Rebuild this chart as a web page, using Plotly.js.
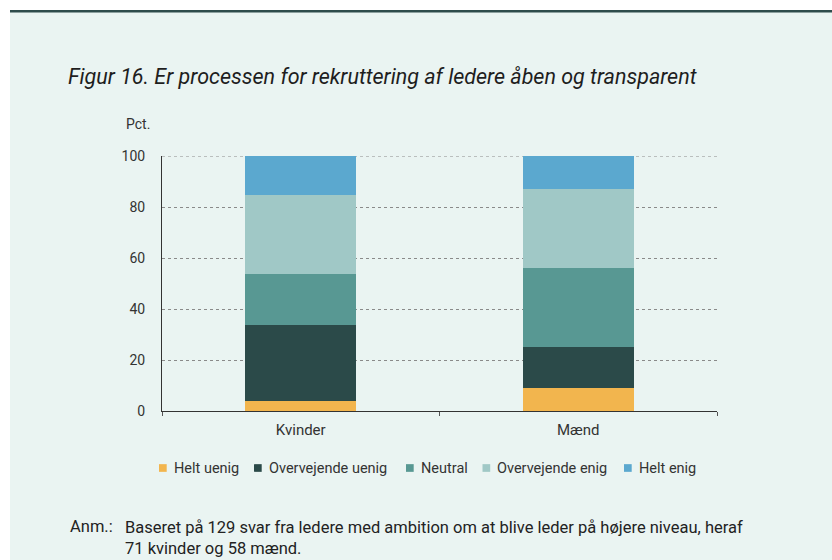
<!DOCTYPE html>
<html>
<head>
<meta charset="utf-8">
<script src="https://cdn.plot.ly/plotly-3.0.1.min.js"></script>
<style>html,body{margin:0;padding:0;background:#fff;}#chart{width:832px;height:560px;}</style>
</head>
<body>
<div id="chart"></div>
<script>
// Data
const categories = ["Kvinder", "Mænd"];
const seriesNames = ["Helt uenig", "Overvejende uenig", "Neutral", "Overvejende enig", "Helt enig"];
const heltUenig = [4.0, 8.9];
const overvejendeUenig = [29.9, 16.1];
const neutral = [19.9, 31.2];
const overvejendeEnig = [31.1, 30.8];
const heltEnig = [15.1, 13.0];
const yTicks = [0, 20, 40, 60, 80, 100];

const seriesValues = [heltUenig, overvejendeUenig, neutral, overvejendeEnig, heltEnig];
const colors = ["#F2B54E", "#2B4A49", "#589893", "#A0C8C6", "#5BA8CF"];

const FONT = "Roboto, 'Open Sans', sans-serif";

const traces = seriesNames.map((name, i) => ({
  type: "bar",
  name: name,
  x: categories,
  y: seriesValues[i],
  marker: { color: colors[i], line: { width: 0 } },
  showlegend: false
}));

// paper coordinate helpers (plot area 162..717 x, 156..411 y)
const L = 162, R = 115, T = 156, B = 149, W = 832, H = 560;
const pw = W - L - R, ph = H - T - B;
const px = v => (v - L) / pw;
const py = v => (H - B - v) / ph;

// custom legend layout (left edge of each legend square, in pixels)
const legendLeft = [159, 254, 406, 482.5, 624];
const legendY = 468, sq = 7.7;

const shapes = [
  { type: "rect", xref: "paper", yref: "paper", x0: px(0), x1: px(W), y0: py(0), y1: py(10), fillcolor: "#fff", line: { width: 0 }, layer: "below" },
  { type: "rect", xref: "paper", yref: "paper", x0: px(0), x1: px(10), y0: py(0), y1: py(H), fillcolor: "#fff", line: { width: 0 }, layer: "below" },
  { type: "rect", xref: "paper", yref: "paper", x0: px(10), x1: px(W), y0: py(10), y1: py(12.5), fillcolor: "#2E4C4C", line: { width: 0 }, layer: "below" },
  // top gridline (at the last tick value, on the y scale)
  { type: "line", xref: "paper", yref: "y", x0: 0, x1: 1, y0: yTicks[yTicks.length - 1], y1: yTicks[yTicks.length - 1], line: { color: "#8a8a8a", width: 1, dash: "dot" }, layer: "below" }
];
const annotations = [
  { text: "Pct.", xref: "paper", yref: "paper", x: px(124), y: py(124), xanchor: "left", yanchor: "middle", showarrow: false, font: { family: FONT, size: 14, color: "#333" } },
  { text: "Anm.:", xref: "paper", yref: "paper", x: px(68), y: py(526), xanchor: "left", yanchor: "middle", showarrow: false, font: { family: FONT, size: 16.5, color: "#222" } },
  { text: "Baseret på 129 svar fra ledere med ambition om at blive leder på højere niveau, heraf<br>71 kvinder og 58 mænd.", xref: "paper", yref: "paper", x: px(123), y: py(537.5), xanchor: "left", yanchor: "middle", align: "left", showarrow: false, font: { family: FONT, size: 16.5, color: "#222" } }
];
seriesNames.forEach((name, i) => {
  const x0 = legendLeft[i];
  shapes.push({ type: "rect", xref: "paper", yref: "paper", x0: px(x0), x1: px(x0 + sq), y0: py(legendY + sq / 2), y1: py(legendY - sq / 2), fillcolor: colors[i], line: { width: 0 } });
  annotations.push({ text: name, xref: "paper", yref: "paper", x: px(x0 + sq + 5), y: py(legendY), xanchor: "left", yanchor: "middle", showarrow: false, font: { family: FONT, size: 14.5, color: "#333" } });
});

const layout = {
  width: W, height: H,
  margin: { l: L, r: R, t: T, b: B, pad: 0 },
  paper_bgcolor: "#EAF4F2",
  plot_bgcolor: "#EAF4F2",
  barmode: "stack",
  bargap: 0.6,
  showlegend: false,
  font: { family: FONT, color: "#333", size: 14 },
  title: {
    text: "<i>Figur 16. Er processen for rekruttering af ledere åben og transparent</i>",
    font: { family: FONT, size: 21.5, color: "#1e1e1e" },
    x: 68 / W, xanchor: "left", xref: "container",
    y: 1 - 76 / H, yanchor: "middle", yref: "container"
  },
  xaxis: {
    type: "category",
    showline: true, linecolor: "#333", linewidth: 1,
    ticks: "outside", tickson: "boundaries", ticklen: 4, tickcolor: "#555",
    ticklabelstandoff: 5,
    showgrid: false, zeroline: false,
    tickfont: { size: 15, color: "#333" },
    fixedrange: true
  },
  yaxis: {
    range: [0, 100],
    tickvals: yTicks,
    showline: true, linecolor: "#333", linewidth: 1,
    ticks: "", ticklabelstandoff: 13,
    showgrid: true, gridcolor: "#8a8a8a", griddash: "dot", gridwidth: 1,
    zeroline: false,
    tickfont: { size: 14, color: "#333" },
    fixedrange: true
  },
  shapes: shapes,
  annotations: annotations
};

Plotly.newPlot("chart", traces, layout, { displayModeBar: false, staticPlot: true });
</script>
</body>
</html>
